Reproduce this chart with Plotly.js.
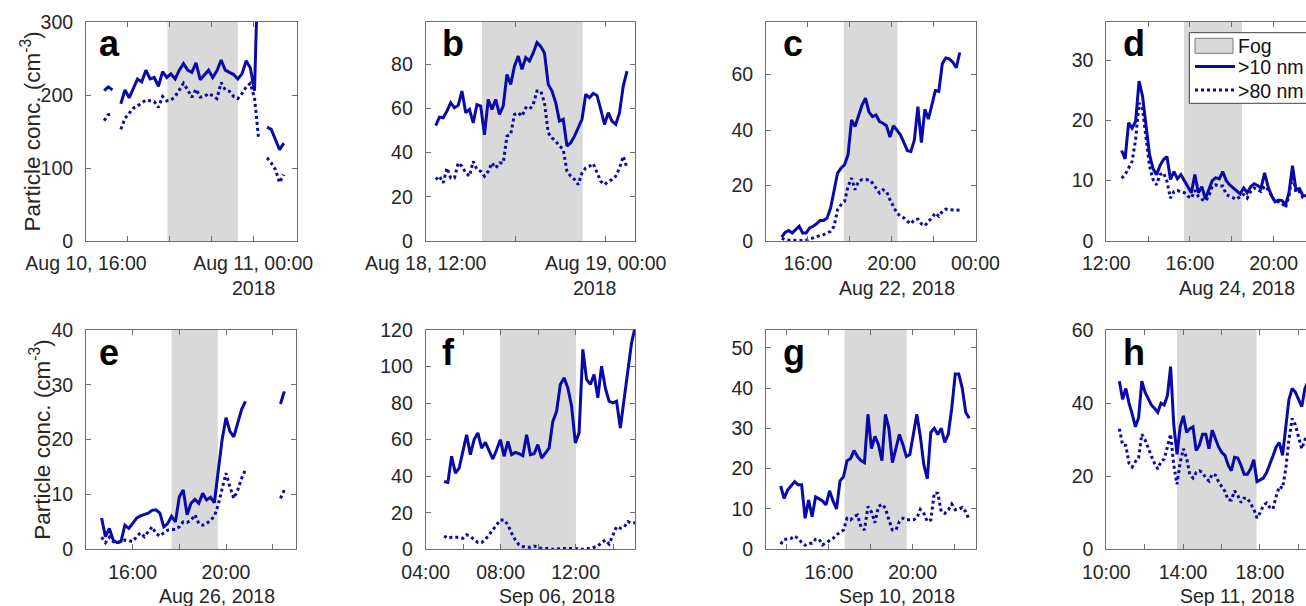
<!DOCTYPE html>
<html>
<head>
<meta charset="utf-8">
<script src="https://cdn.plot.ly/plotly-3.0.1.min.js"></script>
<style>
html,body{margin:0;padding:0;overflow:hidden;background:#ffffff;}
#chart{width:1340px;height:606px;}
</style>
</head>
<body>
<div id="chart"></div>
<script>
// ---------------- DATA ----------------
// Panel a (Aug 10, 2018)
const aStart = '2018-08-10 16:52', aStep = 12;
const aSolid  = [206,211,207,null,188,207,196,209,222,218,234,222,224,212,232,224,229,222,234,243,234,231,244,221,228,234,224,233,248,234,231,228,222,229,247,237,206,410,null,156,153,139,125,134];
const aDotted = [165,173,175,null,153,168,175,182,185,189,193,192,191,183,198,192,193,198,207,216,207,197,208,197,198,202,199,195,217,207,205,198,195,202,211,216,196,139,null,114,107,98,80,91];
const aFog = ['2018-08-10 19:54','2018-08-10 23:16'];
const aRange = ['2018-08-10 16:00','2018-08-11 02:06'];
const aTickVals = ['2018-08-10 16:00','2018-08-11 00:00'];
const aTickText = ['Aug 10, 16:00','Aug 11, 00:00'];
const aMinorTicks = ['2018-08-10 18:00','2018-08-10 20:00','2018-08-10 22:00'];

// Panel b (Aug 18, 2018)
const bStart = '2018-08-18 12:40', bStep = 15;
const bSolid  = [52.2,56,55.7,58.7,62.5,60.2,61.3,67.8,58,59.5,53.4,61.7,61,48,64,59.5,64,57.2,61,75.3,70.8,79,83.6,77.6,82.9,81.4,85,89.7,88,85,70.8,67.8,62.5,54.2,55,42.9,44.4,47.4,51.2,55,66.3,64.8,66.7,65.8,59.5,52.7,58,54.2,52.7,58,70,76.8];
const bDotted = [27.8,29.3,26.3,33,28.5,28.5,35.3,33.8,30.8,29.3,36,32.3,31.5,29.3,31.5,35.3,33,35.3,35.3,47.4,48.2,57.2,58,56.5,60.2,59.5,61.7,67.8,67.8,62.5,48.9,46.6,45.1,42.9,41.4,31.5,29.3,27.8,25.5,30.8,33,33.8,35,30.8,27,25.5,27,27.8,29.3,33,38.3,33];
const bFog = ['2018-08-18 15:45','2018-08-18 22:28'];
const bRange = ['2018-08-18 12:00','2018-08-19 01:55'];
const bTickVals = ['2018-08-18 12:00','2018-08-19 00:00'];
const bTickText = ['Aug 18, 12:00','Aug 19, 00:00'];
const bMinorTicks = ['2018-08-18 18:00'];

// Panel c (Aug 22, 2018)
const cStart = '2018-08-22 14:45', cStep = 10;
const cSolid  = [1.4,3.1,3.8,2.9,4.1,5.3,2.9,2.9,4.7,5.3,6.2,7.4,7.4,8.3,11.9,17.9,24.5,26.3,27.5,31.1,43.7,41.3,44.9,49,51.5,46.5,44.9,45.5,43.1,42.5,41.6,37.5,41.6,40.1,38.3,35.5,32.6,32.3,36.5,48.5,35.5,47.5,44,49,54.3,54,64,66,65.7,64.5,62.5,68];
const cDotted = [1,0.5,0.3,0.2,0.2,0.2,0.2,0.3,0.7,1.2,1.7,2,2.3,3,3.5,5.3,11.3,13.1,14.3,19.7,22.7,18.5,21.5,22.1,22.1,22.1,20.9,19.1,17.3,18.5,17.9,14.9,12.5,10.1,8.9,8.3,7.1,6.2,7.7,7.9,6.2,5.5,7.1,8.3,10.1,8.9,10.7,11.5,11.3,11.3,11.1,11.1];
const cFog = ['2018-08-22 17:43','2018-08-22 20:16'];
const cRange = ['2018-08-22 14:00','2018-08-23 00:00'];
const cTickVals = ['2018-08-22 16:00','2018-08-22 20:00','2018-08-23 00:00'];
const cTickText = ['16:00','20:00','00:00'];
const cMinorTicks = ['2018-08-22 18:00','2018-08-22 22:00'];

// Panel d (Aug 24, 2018)
const dStart = '2018-08-24 12:44', dStep = 10;
const dSolid  = [15,13.6,19.6,18.7,19.8,26.5,24,19,14.3,12,11,12.5,13.5,14,10.2,11.5,10.3,11,10,9,8,11,8,9,7,8.5,10,10.5,10.3,11.5,10,9.3,8.8,8.3,7.8,8.8,8,9,9.5,9.2,8.8,11.3,9,7.5,6.5,6.8,6.7,6,8,12.5,8.5,8.7,7.5,7.5,7.8,8];
const dDotted = [10.4,11,12.1,13.2,16.8,22.9,21.8,16.8,12.4,10.2,9.3,11,11.3,9.9,7.1,8.2,8.4,8.1,8,7.4,7.1,8.4,7.4,6.9,6.6,7.4,9.1,9.3,9.1,9.1,7.7,7.4,7.1,6.9,7.4,7.7,7.1,8.2,8.8,8.5,8.2,9.1,8.5,7.5,6.5,6.5,6.3,5.5,7.5,11,8,8.2,7.2,7,6.8,7];
const dFog = ['2018-08-24 15:43','2018-08-24 18:29'];
const dRange = ['2018-08-24 12:00','2018-08-24 22:00'];
const dTickVals = ['2018-08-24 12:00','2018-08-24 16:00','2018-08-24 20:00'];
const dTickText = ['12:00','16:00','20:00'];
const dMinorTicks = ['2018-08-24 14:00','2018-08-24 18:00','2018-08-24 22:00'];

// Panel e (Aug 26, 2018)
const eStart = '2018-08-26 14:40', eStep = 10;
const eSolid  = [5.7,2.3,3.8,1.7,1.2,1.4,4.4,3.8,4.7,5.7,6.1,6.4,6.6,7.1,7.2,6.6,4.1,4.7,6,5,9.6,10.8,6.3,8.4,9.1,8.4,10.2,9,9.5,8.5,14,20,24,21.5,20.5,23,25.5,27,null,null,null,null,null,null,null,null,26.5,28.8];
const eDotted = [2.2,1.2,2.2,1.4,1.2,1.4,1.7,1.6,1.4,2.3,3,2.3,3.2,4.1,2.9,2.4,3,3.5,3.6,3.6,4.1,5,4.9,5.3,6.3,4.7,4.4,4.7,5.3,6,8.1,10.8,13.9,11.4,9.3,10.8,12.9,14.5,null,null,null,null,null,null,null,null,9.3,10.8];
const eFog = ['2018-08-26 17:40','2018-08-26 19:39'];
const eRange = ['2018-08-26 14:00','2018-08-26 23:00'];
const eTickVals = ['2018-08-26 16:00','2018-08-26 20:00'];
const eTickText = ['16:00','20:00'];
const eMinorTicks = ['2018-08-26 18:00','2018-08-26 22:00'];

// Panel f (Sep 06, 2018)
const fStart = '2018-09-06 04:59', fStep = 12;
const fSolid  = [37.1,36.6,50.9,41.7,44.4,52.7,62.7,51.8,60,63.7,55.4,58.5,53.6,49.4,54.5,60,50.9,59.1,51.8,53,52.3,51.2,62.7,51.8,52.3,57.3,49.9,52.7,55.4,70,75.5,90.2,93.8,88.3,78.3,58.2,63.7,109.4,92.9,90.2,95.7,82.9,100.2,88.3,81,80.1,81,66.4,81.9,97.5,113,122];
const fDotted = [7.3,6,6.6,6.6,6.6,6,7.9,7,5.5,3.7,3.7,5.5,7.9,10.6,13.9,16.1,16.1,13.4,8.8,5.1,2.4,1.5,1.1,1.1,1.8,1.1,0.5,0.5,0.5,0,0,0.5,0.5,0.5,0.5,0.5,0,0,0.5,0.5,1.1,1.8,3.7,5.1,2.9,7.9,12.4,11.5,12.1,15.2,14.3,14.6];
const fFog = ['2018-09-06 07:58','2018-09-06 12:01'];
const fRange = ['2018-09-06 04:00','2018-09-06 15:10'];
const fTickVals = ['2018-09-06 04:00','2018-09-06 08:00','2018-09-06 12:00'];
const fTickText = ['04:00','08:00','12:00'];
const fMinorTicks = ['2018-09-06 06:00','2018-09-06 10:00','2018-09-06 14:00'];

// Panel g (Sep 10, 2018)
const gStart = '2018-09-10 13:42', gStep = 10;
const gSolid  = [15.7,12.6,14.7,15.7,16.8,16,16,7.7,12.2,8.1,13,12.5,12,11,14.5,12,10,17,18,22,22.5,24.5,23,22,21.5,33.5,25,28,26,22,33.5,30,21.5,25,28.5,26,23,23.5,29,33.5,28,21,17.5,29,30,28.5,30,26.5,28.5,35,43.5,43.5,40,34,32.5];
const gDotted = [1.3,2.5,2.5,2.7,3.3,2.7,1.7,1,1.5,1.5,2.5,2.5,1.1,1.7,2.3,2.7,3.6,4.1,4.8,7.7,7.3,8.1,8.5,5.6,4.8,10.6,9.3,6.6,10.6,11.2,10.2,7.3,4.8,4.8,6.9,7.7,7.3,7.3,7.3,7.7,9.9,8.9,6.9,7.3,14,13.9,9.3,8.9,9.8,11.2,9.8,9.9,10.4,9.3,7.3];
const gFog = ['2018-09-10 16:45','2018-09-10 19:43'];
const gRange = ['2018-09-10 13:00','2018-09-10 23:00'];
const gTickVals = ['2018-09-10 16:00','2018-09-10 20:00'];
const gTickText = ['16:00','20:00'];
const gMinorTicks = ['2018-09-10 14:00','2018-09-10 18:00','2018-09-10 22:00'];

// Panel h (Sep 11, 2018)
const hStart = '2018-09-11 10:41', hStep = 10;
const hSolid  = [46,41,44,40,37,33.5,36,46,43,41,39.5,38.5,37.5,40,39.5,42,50,34,26,33.5,36.5,32,33,33.5,27,28.5,31.5,31.5,27.5,32.6,30,28,26.5,25.7,23,21.5,25.2,25,23,20.5,20.5,22,24.5,18.5,19,19.5,21,23,25.5,28,29.2,25.7,34,41,44,43,41,39,44,46,45,44];
const hDotted = [33,28.5,28.4,23.5,22.5,24,25,31.5,30,27.5,25.5,23.5,22,24,24.7,28,31.5,23,17.8,23.8,27.5,25,20.5,19.5,21,21.5,21,19.5,18.7,20.6,20.3,18.5,17,15.8,13.5,13.5,16,14.8,12.8,14,14,12.5,11,8.6,10,12,12.7,11.5,11,14.5,17.2,16.7,22,30,35.8,34,31,27.5,30,31.5,31,30.5];
const hFog = ['2018-09-11 13:41','2018-09-11 17:50'];
const hRange = ['2018-09-11 10:00','2018-09-11 20:54'];
const hTickVals = ['2018-09-11 10:00','2018-09-11 14:00','2018-09-11 18:00'];
const hTickText = ['10:00','14:00','18:00'];
const hMinorTicks = ['2018-09-11 12:00','2018-09-11 16:00','2018-09-11 20:00'];

const yMaxes = [300, 99, 79, 36.3, 40, 120, 54.4, 60];
const yDticks = [100, 20, 20, 10, 10, 20, 10, 20];
const panelLetters = ['a','b','c','d','e','f','g','h'];
const dateLabels = ['2018','2018','Aug 22, 2018','Aug 24, 2018','Aug 26, 2018','Sep 06, 2018','Sep 10, 2018','Sep 11, 2018'];
const seriesNames = ['>10 nm','>80 nm'];
const fogName = 'Fog';
const yTitle = 'Particle conc. (cm<sup>-3</sup>)';

// ---------------- LAYOUT / RENDER ----------------
const W = 1340, H = 606;
const FONT = 'Liberation Sans, Arial, Helvetica, sans-serif';
const BLUE = '#0a0aa8';
const TXT = '#262626';
const AXC = '#6e6e6e';
const FOGC = '#d9d9d9';

function times(start, stepMin, n) {
  const t0 = Date.parse(start.replace(' ', 'T') + ':00Z');
  const out = [];
  for (let i = 0; i < n; i++) {
    out.push(new Date(t0 + i * stepMin * 60000).toISOString().slice(0, 19).replace('T', ' '));
  }
  return out;
}

const panelData = [
  {start:aStart, step:aStep, solid:aSolid, dotted:aDotted, fog:aFog, range:aRange, tv:aTickVals, tt:aTickText, mt:aMinorTicks},
  {start:bStart, step:bStep, solid:bSolid, dotted:bDotted, fog:bFog, range:bRange, tv:bTickVals, tt:bTickText, mt:bMinorTicks},
  {start:cStart, step:cStep, solid:cSolid, dotted:cDotted, fog:cFog, range:cRange, tv:cTickVals, tt:cTickText, mt:cMinorTicks},
  {start:dStart, step:dStep, solid:dSolid, dotted:dDotted, fog:dFog, range:dRange, tv:dTickVals, tt:dTickText, mt:dMinorTicks},
  {start:eStart, step:eStep, solid:eSolid, dotted:eDotted, fog:eFog, range:eRange, tv:eTickVals, tt:eTickText, mt:eMinorTicks},
  {start:fStart, step:fStep, solid:fSolid, dotted:fDotted, fog:fFog, range:fRange, tv:fTickVals, tt:fTickText, mt:fMinorTicks},
  {start:gStart, step:gStep, solid:gSolid, dotted:gDotted, fog:gFog, range:gRange, tv:gTickVals, tt:gTickText, mt:gMinorTicks},
  {start:hStart, step:hStep, solid:hSolid, dotted:hDotted, fog:hFog, range:hRange, tv:hTickVals, tt:hTickText, mt:hMinorTicks}
];

// pixel boxes [left, top, right, bottom]
const boxes = [
  [86,22,297,241],[425.7,22,634.5,241],[766,22,975.5,241],[1106.3,22,1315.5,241],
  [86,330,296,549.3],[425.7,330,635,549.3],[766,330,975.5,549.3],[1106.3,330,1315.5,549.3]
];
const letterOffsets = [11,14,15,15,11,14,15,15];
const dateOffsets = [168,169,131,131,131,131,131,131];

const px = x => x / W;
const py = y => 1 - y / H;

const traces = [];
const shapes = [];
const annotations = [];
const layout = {
  width: W, height: H, autosize: false,
  margin: {l:0, r:0, t:0, b:0},
  paper_bgcolor: '#ffffff', plot_bgcolor: '#ffffff',
  font: {family: FONT, size: 19.5, color: TXT},
  showlegend: false
};

panelData.forEach((p, i) => {
  const n = i + 1;
  const xa = 'x' + (n === 1 ? '' : n);
  const ya = 'y' + (n === 1 ? '' : n);
  const xKey = 'xaxis' + (n === 1 ? '' : n);
  const yKey = 'yaxis' + (n === 1 ? '' : n);
  const b = boxes[i];

  traces.push({
    type: 'scatter', mode: 'lines', x: times(p.start, p.step, p.solid.length), y: p.solid,
    xaxis: xa, yaxis: ya, line: {color: BLUE, width: 3}, connectgaps: false,
    name: seriesNames[0], hoverinfo: 'skip'
  });
  traces.push({
    type: 'scatter', mode: 'lines', x: times(p.start, p.step, p.dotted.length), y: p.dotted,
    xaxis: xa, yaxis: ya, line: {color: BLUE, width: 3, dash: 'dot'}, connectgaps: false,
    name: seriesNames[1], hoverinfo: 'skip'
  });

  shapes.push({
    type: 'rect', layer: 'below', xref: xa, yref: ya + ' domain',
    x0: p.fog[0], x1: p.fog[1], y0: 0, y1: 1,
    fillcolor: FOGC, line: {width: 0}
  });

  const tickStyle = {ticks: 'inside', ticklen: 5, tickwidth: 1, tickcolor: AXC};
  layout[xKey] = Object.assign({
    domain: [px(b[0]), px(b[2])], anchor: ya, type: 'date',
    range: p.range, tickmode: 'array', tickvals: p.tv, ticktext: p.tt,
    minor: Object.assign({tickmode: 'array', tickvals: p.mt, showgrid: false}, tickStyle),
    showline: true, linecolor: AXC, linewidth: 1, mirror: 'ticks',
    showgrid: false, zeroline: false, fixedrange: true,
    tickfont: {family: FONT, size: 19.5, color: TXT}, ticklabelstandoff: 5
  }, tickStyle);
  layout[yKey] = Object.assign({
    domain: [py(b[3]), py(b[1])], anchor: xa,
    range: [0, yMaxes[i]], tick0: 0, dtick: yDticks[i],
    showline: true, linecolor: AXC, linewidth: 1, mirror: 'ticks',
    showgrid: false, zeroline: false, fixedrange: true,
    tickfont: {family: FONT, size: 19.5, color: TXT}, ticklabelstandoff: 8
  }, tickStyle);

  annotations.push({
    xref: 'paper', yref: 'paper', x: px(b[0] + letterOffsets[i]), y: py(b[1] + 22),
    xanchor: 'left', yanchor: 'middle', showarrow: false,
    text: '<b>' + panelLetters[i] + '</b>',
    font: {family: FONT, size: 36, color: '#000000'}
  });
  annotations.push({
    xref: 'paper', yref: 'paper', x: px(b[0] + dateOffsets[i]), y: py(b[3] + 47),
    xanchor: 'center', yanchor: 'middle', showarrow: false,
    text: dateLabels[i], font: {family: FONT, size: 19.5, color: TXT}
  });
});

// y-axis titles
annotations.push({
  xref: 'paper', yref: 'paper', x: px(30), y: py((boxes[0][1] + boxes[0][3]) / 2),
  xanchor: 'center', yanchor: 'middle', showarrow: false, textangle: -90,
  text: yTitle, font: {family: FONT, size: 22.5, color: TXT}
});
annotations.push({
  xref: 'paper', yref: 'paper', x: px(40), y: py((boxes[4][1] + boxes[4][3]) / 2),
  xanchor: 'center', yanchor: 'middle', showarrow: false, textangle: -90,
  text: yTitle, font: {family: FONT, size: 22.5, color: TXT}
});

// legend (inside panel d), drawn as a boxed key
const LG = {left: 1189.3, top: 32.7, right: 1328, bottom: 103.3};
shapes.push({type: 'rect', xref: 'paper', yref: 'paper', layer: 'above',
  x0: px(LG.left), x1: px(LG.right), y0: py(LG.bottom), y1: py(LG.top),
  fillcolor: '#ffffff', line: {color: '#404040', width: 1}});
shapes.push({type: 'rect', xref: 'paper', yref: 'paper', layer: 'above',
  x0: px(1195), x1: px(1233), y0: py(53.3), y1: py(38.3),
  fillcolor: FOGC, line: {color: '#7a7a7a', width: 1}});
shapes.push({type: 'line', xref: 'paper', yref: 'paper', layer: 'above',
  x0: px(1195), x1: px(1235), y0: py(66.5), y1: py(66.5),
  line: {color: BLUE, width: 3}});
shapes.push({type: 'line', xref: 'paper', yref: 'paper', layer: 'above',
  x0: px(1195), x1: px(1235), y0: py(90), y1: py(90),
  line: {color: BLUE, width: 3, dash: 'dot'}});
[[fogName, 46], [seriesNames[0], 67], [seriesNames[1], 90.5]].forEach(([t, yy]) => {
  annotations.push({
    xref: 'paper', yref: 'paper', x: px(1236), y: py(yy),
    xanchor: 'left', yanchor: 'middle', showarrow: false,
    text: t, font: {family: FONT, size: 19.5, color: '#111111'}
  });
});

layout.shapes = shapes;
layout.annotations = annotations;

Plotly.newPlot('chart', traces, layout, {staticPlot: true, displayModeBar: false});
</script>
</body>
</html>
